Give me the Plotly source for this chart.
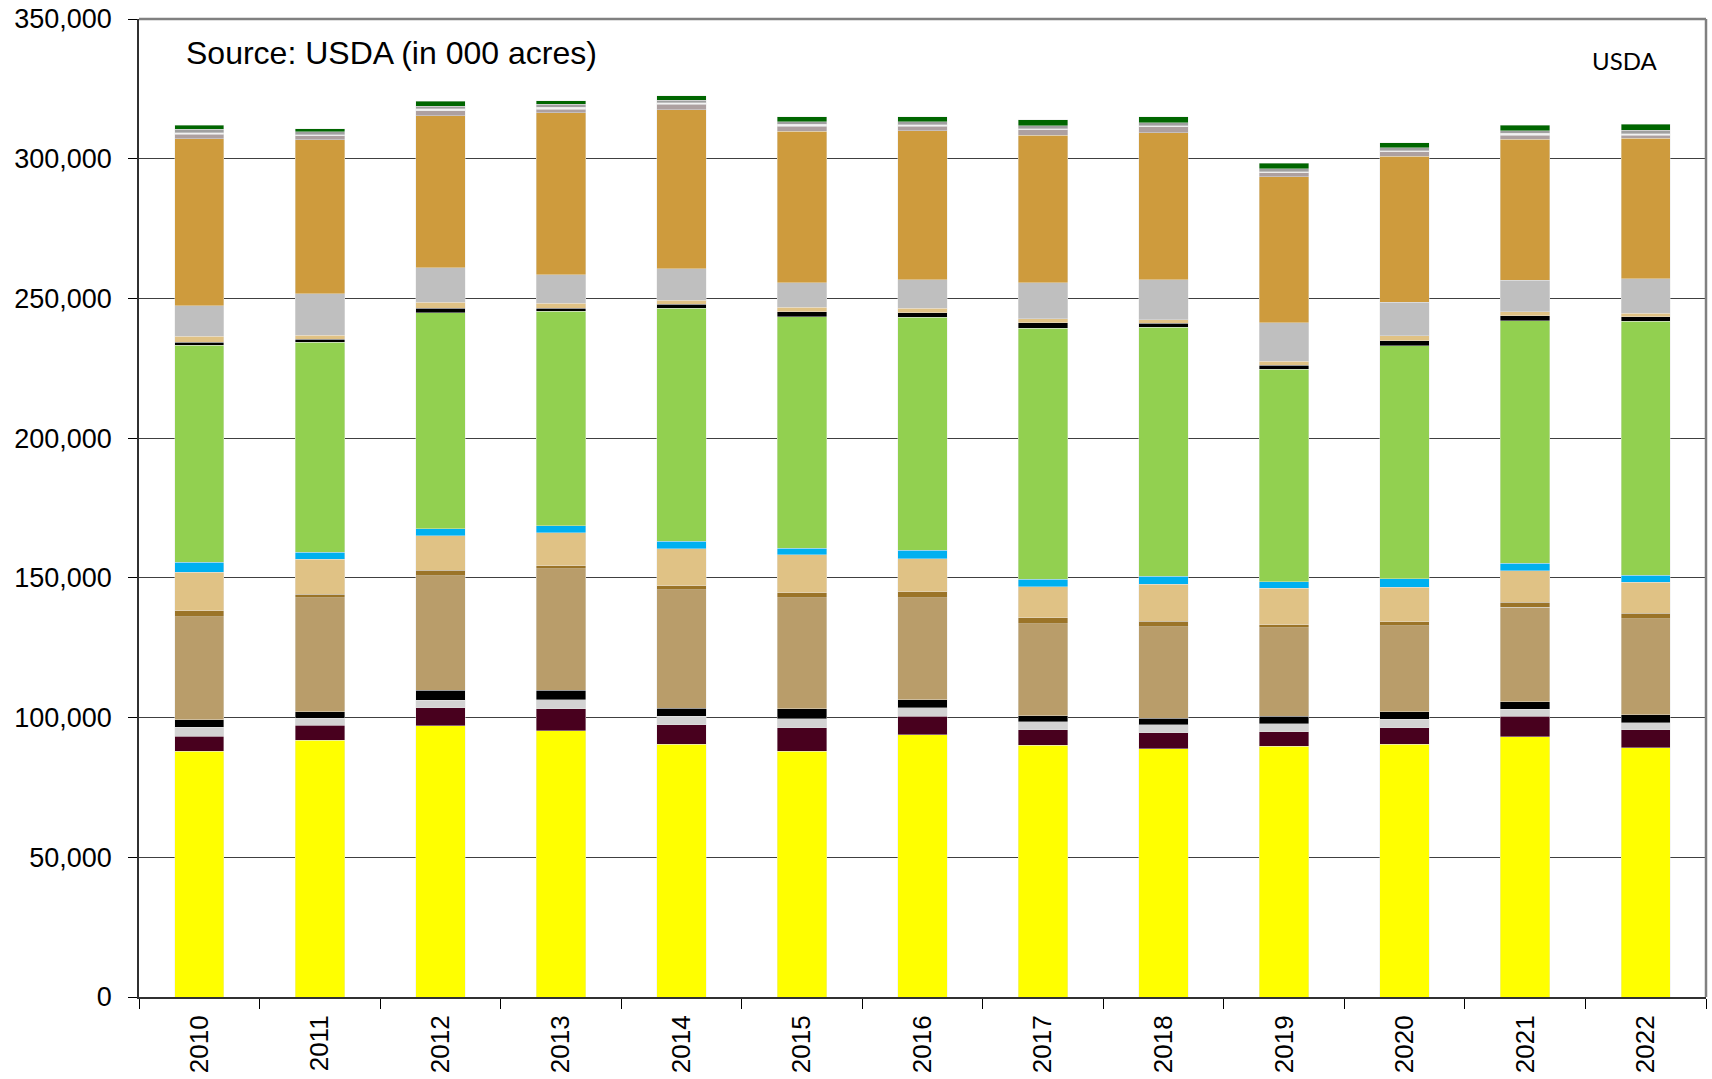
import plotly.graph_objects as go

years = ["2010", "2011", "2012", "2013", "2014", "2015", "2016",
         "2017", "2018", "2019", "2020", "2021", "2022"]

# values in 000 acres, stacked bottom -> top
corn = [88000, 91900, 97100, 95350, 90450, 87950, 93900, 90100, 88800, 89750, 90450, 93200, 89250]
sorghum = [5300, 5350, 6400, 7850, 7050, 8350, 6600, 5600, 5700, 5250, 5950, 7300, 6450]
barley = [3300, 2500, 2700, 3100, 2900, 3200, 2950, 2750, 2900, 2750, 3000, 2500, 2500]
oats = [2600, 2400, 3600, 3500, 2950, 3600, 3000, 2250, 2400, 2750, 2750, 2750, 2900]
winter_wheat = [36800, 40800, 41000, 43500, 42450, 39850, 36500, 32950, 32700, 31600, 30650, 33650, 34350]
durum_wheat = [2200, 1200, 2000, 1100, 1450, 1800, 2150, 2150, 1900, 1200, 1550, 1800, 1800]
spring_wheat = [13800, 12450, 12300, 11700, 13150, 13450, 11700, 11100, 13300, 12900, 12300, 11300, 11200]
rice = [3500, 2600, 2500, 2500, 2700, 2400, 3000, 2600, 2900, 2350, 3000, 2750, 2500]
soybeans = [77700, 75050, 77300, 76900, 83450, 82850, 83400, 89900, 89000, 76150, 83450, 86850, 90850]
peanuts = [1200, 1190, 1670, 1070, 1310, 1790, 1670, 1900, 1550, 1430, 1670, 1670, 1670]
sunflower = [2000, 1430, 2030, 1670, 1550, 1670, 1670, 1430, 1310, 1430, 1790, 1430, 1310]
cotton = [11000, 14800, 12300, 10300, 11200, 8700, 10150, 12900, 14200, 13700, 12100, 11250, 12250]
hay = [59700, 55200, 54500, 57850, 56900, 54300, 53300, 52750, 52700, 52250, 52200, 50450, 50250]
dry_beans = [1670, 1300, 1800, 1300, 1900, 1790, 1670, 1900, 2030, 1430, 1670, 1550, 1190]
potatoes = [500, 480, 600, 700, 600, 600, 480, 480, 480, 480, 360, 600, 480]
sugarbeets = [1200, 950, 1000, 1070, 1000, 950, 1070, 1070, 1070, 950, 1070, 950, 1190]
canola = [1430, 1070, 1700, 1300, 1500, 1790, 1790, 2150, 2030, 2030, 1670, 2030, 2150]

series = [
    ("Corn", corn, "#FFFF00"),
    ("Sorghum", sorghum, "#48001E"),
    ("Barley", barley, "#D3D3D3"),
    ("Oats", oats, "#000000"),
    ("Winter wheat", winter_wheat, "#B99D6A"),
    ("Durum wheat", durum_wheat, "#9B7428"),
    ("Other spring wheat", spring_wheat, "#E0C285"),
    ("Rice", rice, "#00B0F0"),
    ("Soybeans", soybeans, "#92D050"),
    ("Peanuts", peanuts, "#000000"),
    ("Sunflower", sunflower, "#E0C285"),
    ("Cotton", cotton, "#BFBFBF"),
    ("Hay", hay, "#CE9B3D"),
    ("Dry beans", dry_beans, "#ADA0A0"),
    ("Potatoes", potatoes, "#F2F2F2"),
    ("Sugarbeets", sugarbeets, "#A0A0A0"),
    ("Canola", canola, "#006600"),
]

fig = go.Figure()
for name, vals, col in series:
    fig.add_trace(go.Bar(
        x=years, y=vals, name=name,
        marker=dict(color=col, line=dict(color="rgba(230,230,230,0.7)", width=0.6)),
    ))

font_family = "Liberation Sans, Arial, sans-serif"

fig.update_layout(
    barmode="stack",
    bargap=0.59,
    showlegend=False,
    width=1712, height=1079,
    margin=dict(l=139, r=6, t=19, b=82, autoexpand=False),
    plot_bgcolor="white",
    paper_bgcolor="white",
    font=dict(family=font_family, color="black", size=26),
    xaxis=dict(
        type="category",
        tickangle=-90,
        tickfont=dict(size=26),
        ticks="outside", ticklen=10, tickcolor="black",
        tickson="boundaries",
        ticklabelstandoff=6,
        ticklabeloverflow="allow",
        showline=True, linecolor="#303030", linewidth=2,
        showgrid=False,
        automargin=False,
    ),
    yaxis=dict(
        range=[0, 350000],
        dtick=50000,
        tickformat=",",
        tickfont=dict(size=27),
        ticks="outside", ticklen=9, tickcolor="black",
        ticklabelstandoff=11,
        ticklabeloverflow="allow",
        showline=True, linecolor="#303030", linewidth=1.5,
        showgrid=True, gridcolor="#404040", gridwidth=1,
        zeroline=False,
        automargin=False,
    ),
    shapes=[
        dict(type="line", xref="paper", yref="paper", x0=0, x1=1, y0=1, y1=1,
             line=dict(color="#808080", width=2.5)),
        dict(type="line", xref="paper", yref="paper", x0=1, x1=1, y0=0, y1=1,
             line=dict(color="#808080", width=2.5)),
    ],
    annotations=[
        dict(text="Source: USDA (in 000 acres)", xref="paper", yref="paper",
             x=0.029, y=0.965, xanchor="left", yanchor="middle", showarrow=False,
             font=dict(size=32, family=font_family, color="black")),
        dict(text="USDA", xref="paper", yref="paper",
             x=0.948, y=0.958, xanchor="center", yanchor="middle", showarrow=False,
             font=dict(size=24, family="Lato, Open Sans, sans-serif", color="black")),
    ],
)

# remove the default 8px page margin so the figure fills the window exactly
fig.write_html(
    "out.html",
    config={"displayModeBar": False},
    post_script="document.body.style.margin='0';document.body.style.overflow='hidden';",
)
